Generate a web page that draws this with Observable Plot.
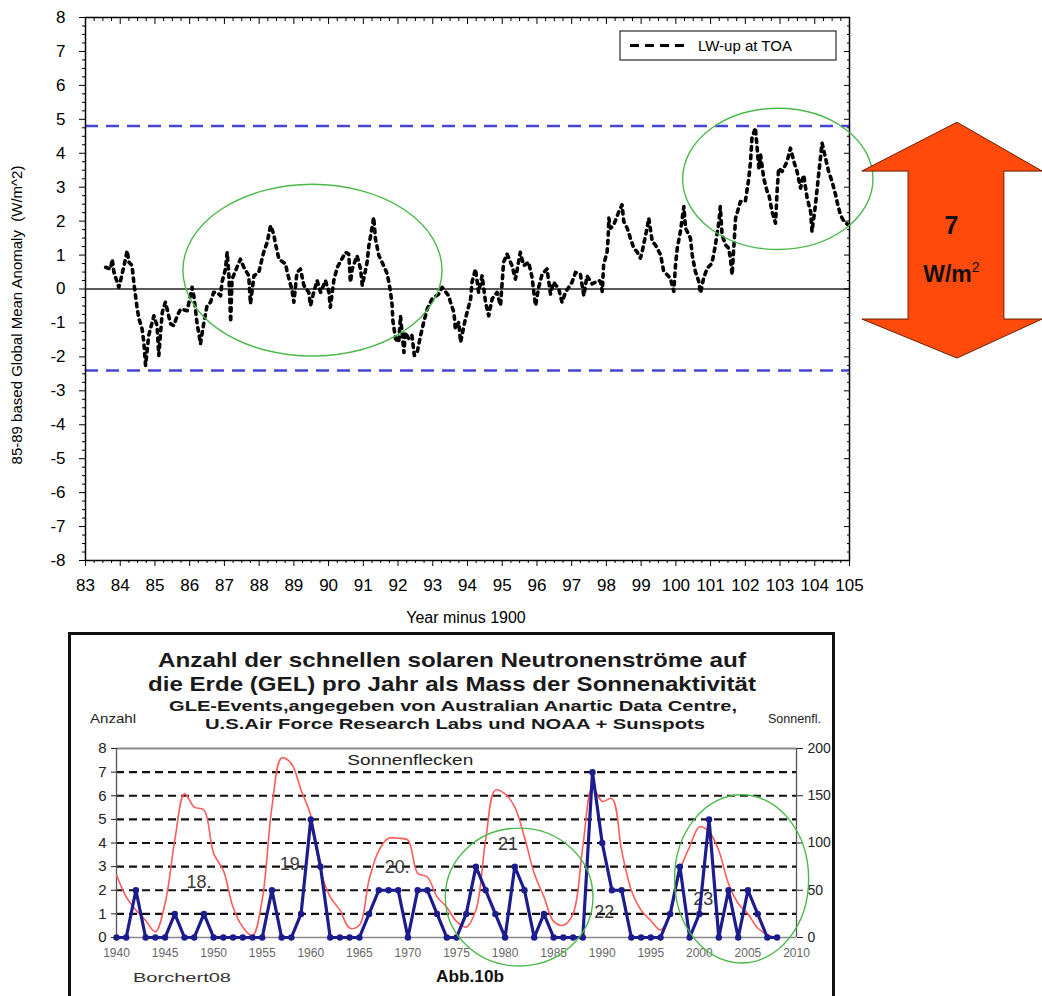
<!DOCTYPE html>
<html><head><meta charset="utf-8">
<script src="https://cdn.jsdelivr.net/npm/d3@7"></script>
<script src="https://cdn.jsdelivr.net/npm/@observablehq/plot@0.6"></script>
<style>
html,body{margin:0;padding:0;background:#fff;overflow:hidden}
#page{position:relative;width:1042px;height:996px;overflow:hidden;background:#fff}
#top{position:absolute;left:0;top:0}
#box{position:absolute;left:68px;top:632px;width:761px;height:400px;border:3px solid #111}
#bottom{position:absolute;left:70px;top:636px}
</style></head><body><div id="page"><div id="top"></div><div id="box"></div><div id="bottom"></div></div>
<script>
// ---------- TOP CHART DATA: LW-up at TOA anomaly (W/m^2), x = year minus 1900 ----------
const lwYearsA = [83.58,83.72,83.77,83.82,83.96,84.01,84.10,84.20,84.25,84.34,84.39,84.44,84.49,84.54,84.63,84.68,84.73,84.78,84.82,84.92,84.97,85.06,85.11,85.21,85.30,85.35,85.45,85.54,85.64,85.74,85.93,86.07,86.12,86.22,86.26,86.31,86.41,86.50,86.60,86.69,86.79,86.89,86.93,87.03,87.08,87.13,87.18,87.22,87.46,87.56,87.70,87.75,87.85,87.99,88.13,88.23,88.33,88.42,88.47,88.57,88.76,88.81,88.95,89.00,89.09,89.19,89.29,89.43,89.48,89.57,89.67,89.77,89.91,90.01,90.05,90.15,90.25,90.49];
const lwValuesA = [0.64,0.59,0.88,0.49,0.05,0.25,0.64,1.13,0.79,0.69,0.20,-0.20,-0.59,-0.88,-1.18,-1.57,-2.25,-1.77,-1.37,-0.98,-0.79,-1.08,-1.96,-0.69,-0.39,-0.59,-1.03,-1.08,-0.79,-0.59,-0.64,0.05,-0.20,-1.08,-1.28,-1.62,-0.98,-0.49,-0.39,-0.10,-0.10,-0.20,0.20,0.59,1.08,0.39,-0.98,0.29,0.88,0.64,0.39,-0.44,0.39,0.49,1.08,1.37,1.87,1.62,1.33,0.88,0.74,0.49,-0.05,-0.39,0.49,0.59,0.10,-0.10,-0.49,-0.10,0.25,-0.10,0.25,-0.10,-0.54,0.25,0.64,1.08];
const lwYearsB = [90.58,90.63,90.68,90.82,90.92,90.97,91.11,91.16,91.21,91.30,91.35,91.45,91.54,91.69,91.78,91.83,91.85,91.93,92.02,92.07,92.17,92.21,92.31,92.40,92.47,92.55,92.65,92.74,92.84,92.98,93.17,93.27,93.46,93.51,93.61,93.65,93.75,93.80,93.94,94.09,94.13,94.23,94.32,94.42,94.47,94.52,94.61,94.71,94.85,94.95,95.04,95.14,95.28,95.38,95.52,95.62,95.76,95.86,95.91,95.96,96.05,96.15,96.29,96.39,96.48,96.63,96.72,96.82,97.01,97.11,97.25,97.35,97.44,97.59,97.78];
const lwValuesB = [1.03,0.20,0.59,0.98,0.59,0.10,0.79,1.28,1.57,2.11,1.47,0.98,0.79,0.44,-0.05,-0.49,-0.93,-1.47,-1.57,-0.79,-1.87,-1.28,-1.47,-1.37,-1.96,-1.87,-1.37,-0.98,-0.59,-0.29,-0.15,0.05,-0.20,-0.39,-0.69,-1.18,-0.98,-1.57,-0.88,-0.29,0.20,0.59,-0.10,0.39,0.00,-0.39,-0.79,-0.29,-0.10,-0.49,0.79,1.03,0.69,0.29,1.08,0.69,0.79,0.34,-0.10,-0.49,0.05,0.44,0.59,-0.15,0.20,0.00,-0.39,-0.10,0.20,0.49,0.44,-0.20,0.39,0.15,0.25];
const lwYearsC = [97.83,97.88,97.92,98.02,98.05,98.07,98.12,98.21,98.36,98.45,98.50,98.60,98.69,98.79,98.88,98.98,99.03,99.17,99.22,99.32,99.41,99.56,99.65,99.75,99.84,99.94,99.99,100.04,100.13,100.23,100.28,100.42,100.47,100.56,100.66,100.71,100.80,100.90,101.04,101.14,101.24,101.28,101.33,101.43,101.52,101.57,101.62,101.72,101.86,102.00,102.10,102.15,102.19,102.29,102.34,102.39,102.44,102.53,102.63,102.68,102.77,102.87,102.92,102.96,103.06,103.20,103.30,103.40,103.49,103.59,103.68,103.78,103.88,103.92,104.02,104.12,104.21,104.31,104.40,104.50,104.60,104.64,104.74,104.84,104.95];
const lwValuesC = [0.22,-0.07,0.71,1.10,1.50,2.09,1.79,1.89,2.28,2.48,1.99,1.79,1.50,1.20,1.10,0.91,1.10,1.79,2.09,1.40,1.30,1.01,0.52,0.42,0.32,-0.07,0.71,1.20,1.69,2.43,1.79,1.50,1.01,0.52,0.22,-0.12,0.32,0.61,0.76,1.30,1.99,2.43,1.60,1.30,1.20,0.91,0.42,2.09,2.58,2.58,3.26,3.75,4.44,4.75,4.15,3.56,3.95,3.26,2.87,2.77,2.28,1.94,2.97,3.56,3.46,3.75,4.15,3.75,3.46,2.97,3.36,2.68,2.28,1.69,2.48,3.46,4.30,3.85,3.46,3.16,2.77,2.58,2.18,1.99,1.90];
const limitLines = [4.8, -2.4];
const topXTicks = [83,84,85,86,87,88,89,90,91,92,93,94,95,96,97,98,99,100,101,102,103,104,105];
const topYTicks = [-8,-7,-6,-5,-4,-3,-2,-1,0,1,2,3,4,5,6,7,8];

// ---------- BOTTOM CHART DATA ----------
const gleYears = [1940,1941,1942,1943,1944,1945,1946,1947,1948,1949,1950,1951,1952,1953,1954,1955,1956,1957,1958,1959,1960,1961,1962,1963,1964,1965,1966,1967,1968,1969,1970,1971,1972,1973,1974,1975,1976,1977,1978,1979,1980,1981,1982,1983,1984,1985,1986,1987,1988,1989,1990,1991,1992,1993,1994,1995,1996,1997,1998,1999,2000,2001,2002,2003,2004,2005,2006,2007,2008];
const gleCounts = [0,0,2,0,0,0,1,0,0,1, 0,0,0,0,0,0,2,0,0,1, 5,3,0,0,0,0,1,2,2,2, 0,2,2,1,0,0,1,3,2,1, 0,3,2,0,1,0,0,0,0,7, 4,2,2,0,0,0,0,1,3,0, 1,5,0,2,0,2,1,0,0];
const sunspots = [66,43,29,18,6,36,103,152,138,135, 89,71,32,11,2,40,138,190,184,156, 129,71,43,29,10,13,61,92,105,105, 103,68,64,43,32,17,11,29,103,156, 152,138,106,68,43,17,13,25,96,159, 144,147,92,50,29,18,8,25,71,96, 117,112,92,57,36,25,10,3,0];
const leftTicks = [0,1,2,3,4,5,6,7,8];
const rightTicks = [0,50,100,150,200];
const bottomXTicks = [1940,1945,1950,1955,1960,1965,1970,1975,1980,1985,1990,1995,2000,2005,2010];
const gridLevels = [1,2,3,4,5,6,7];
const cycleLabels = ["18.","19.","20.","21","22","23"];
const cycleYears = [1948.5,1958.1,1968.9,1980.3,1990.2,2000.4];
const cycleLevels = [2.33,3.09,2.97,3.94,1.06,1.61];

const FONT = "'Liberation Sans', Arial, Helvetica, sans-serif";

// ================= TOP CHART =================
const lwValues = lwValuesA.concat(lwValuesB, lwValuesC);
const lw = lwYearsA.concat(lwYearsB, lwYearsC).map((year, i) => ({year, value: lwValues[i]}));
const minor = (a, b) => d3.range(a, b + 0.001, 0.25).filter(v => Math.abs(v - Math.round(v)) > 1e-6);
const xMinor = minor(83, 105), yMinor = minor(-8, 8);
const blank = () => "";

const topP = Plot.plot({
  width: 1042, height: 630,
  marginLeft: 85, marginRight: 193, marginTop: 17, marginBottom: 70,
  style: {fontFamily: FONT, background: "transparent", color: "#000"},
  x: {domain: [83, 105], label: null},
  y: {domain: [-8, 8], label: null},
  marks: [
    Plot.ruleY([0], {stroke: "#222", strokeWidth: 1.5}),
    Plot.ruleY(limitLines, {stroke: "#4646d2", strokeWidth: 2.5, strokeDasharray: "13,8"}),
    Plot.line(lw, {x: "year", y: "value", stroke: "#000", strokeWidth: 3.6, strokeDasharray: "3.5,5"}),
    Plot.frame({stroke: "#000", strokeWidth: 1.5}),
    Plot.axisY(topYTicks, {anchor: "left", tickSize: 6, tickPadding: 14, fontSize: 17, tickFormat: d => String(d), label: null}),
    Plot.axisY(yMinor, {anchor: "left", tickSize: 3, tickFormat: blank, label: null}),
    Plot.axisY(topYTicks, {anchor: "right", tickSize: 6, dx: -6, tickFormat: blank, label: null}),
    Plot.axisY(yMinor, {anchor: "right", tickSize: 3, dx: -3, tickFormat: blank, label: null}),
    Plot.axisX(topXTicks, {anchor: "bottom", tickSize: 6, tickPadding: 12, fontSize: 17, tickFormat: d => String(d), label: null}),
    Plot.axisX(xMinor, {anchor: "bottom", tickSize: 3, tickFormat: blank, label: null}),
    Plot.axisX(topXTicks, {anchor: "top", tickSize: 6, dy: 6, tickFormat: blank, label: null}),
    Plot.axisX(xMinor, {anchor: "top", tickSize: 3, dy: 3, tickFormat: blank, label: null})
  ]
});
document.getElementById("top").appendChild(topP);

function addEllipses(plot, list) {
  const sx = plot.scale("x"), sy = plot.scale("y");
  const g = d3.select(plot).append("g");
  for (const e of list) {
    const cx = sx.apply(e.cx), cy = sy.apply(e.cy);
    g.append("ellipse").attr("cx", cx).attr("cy", cy)
      .attr("rx", Math.abs(sx.apply(e.cx + e.rx) - cx))
      .attr("ry", Math.abs(sy.apply(e.cy + e.ry) - cy))
      .attr("fill", "none").attr("stroke", "#4cb84c").attr("stroke-width", 1.4);
  }
}
addEllipses(topP, [{cx: 89.55, cy: 0.54, rx: 3.73, ry: 2.53}, {cx: 102.95, cy: 3.23, rx: 2.74, ry: 2.08}]);

{
  const svg = d3.select(topP);
  const sx = topP.scale("x"), sy = topP.scale("y");
  // legend
  const lg = svg.append("g");
  lg.append("rect").attr("x", 620).attr("y", 31).attr("width", 216).attr("height", 29).attr("fill", "#fff").attr("stroke", "#000").attr("stroke-width", 1);
  lg.append("line").attr("x1", 630).attr("x2", 690).attr("y1", 45.5).attr("y2", 45.5).attr("stroke", "#000").attr("stroke-width", 3).attr("stroke-dasharray", "9,6");
  lg.append("text").attr("x", 698).attr("y", 51).attr("text-anchor", "start").attr("font-size", 15).attr("font-family", FONT).text("LW-up at TOA");
  // axis titles
  svg.append("text").attr("transform", "translate(22,315) rotate(-90)").attr("text-anchor", "middle")
    .attr("font-size", 15).attr("font-family", FONT).style("white-space", "pre")
    .text("85-89 based Global Mean Anomaly  (W/m^2)");
  svg.append("text").attr("x", 466).attr("y", 623).attr("text-anchor", "middle").attr("font-size", 16).attr("font-family", FONT).text("Year minus 1900");
  // double arrow (annotation spanning the range between the blue lines)
  const ax = {left: 105.37, shaftL: 106.70, tip: 108.11, shaftR: 109.46, right: 110.56};
  const ay = {top: 4.90, headTop: 3.46, headBottom: -0.90, bottom: -2.05};
  const pts = [[ax.tip, ay.top], [ax.right, ay.headTop], [ax.shaftR, ay.headTop], [ax.shaftR, ay.headBottom], [ax.right, ay.headBottom],
    [ax.tip, ay.bottom], [ax.left, ay.headBottom], [ax.shaftL, ay.headBottom], [ax.shaftL, ay.headTop], [ax.left, ay.headTop]]
    .map(([x, y]) => `${sx.apply(x)},${sy.apply(y)}`).join(" ");
  svg.append("polygon").attr("points", pts).attr("fill", "#ff4a0c").attr("stroke", "#6a1e00").attr("stroke-width", 1);
  svg.append("text").attr("x", sx.apply(107.95)).attr("y", sy.apply(1.6)).attr("text-anchor", "middle")
    .attr("font-size", 25).attr("font-weight", 900).attr("font-family", FONT).attr("fill", "#111").text("7");
  const wt = svg.append("text").attr("x", sx.apply(107.95)).attr("y", sy.apply(0.2)).attr("text-anchor", "middle")
    .attr("font-size", 23).attr("font-weight", 900).attr("font-family", FONT).attr("fill", "#111");
  wt.append("tspan").text("W/m");
  wt.append("tspan").attr("font-size", 14).attr("font-weight", 400).attr("dy", -10).text("2");
}

// ================= BOTTOM CHART =================
const gle = gleYears.map((year, i) => ({year, count: gleCounts[i]}));
const ssn = gleYears.map((year, i) => ({year, ssn: sunspots[i]}));
const cycles = cycleLabels.map((label, i) => ({label, year: cycleYears[i], level: cycleLevels[i]}));

const botP = Plot.plot({
  width: 764, height: 358,
  marginLeft: 46, marginRight: 38, marginTop: 112, marginBottom: 57,
  style: {fontFamily: FONT, background: "transparent", color: "#222", overflow: "visible"},
  x: {domain: [1940, 2010], label: null},
  y: {domain: [0, 8], label: null},
  marks: [
    Plot.ruleY(gridLevels, {stroke: "#111", strokeWidth: 2.2, strokeDasharray: "8,5"}),
    Plot.ruleY([8], {stroke: "#8a8a8a", strokeWidth: 2}),
    Plot.ruleY([0], {stroke: "#8a8a8a", strokeWidth: 1.5}),
    Plot.ruleX([1940, 2010], {stroke: "#555", strokeWidth: 1.3}),
    Plot.text(cycles, {x: "year", y: "level", text: "label", fontSize: 18, fill: "#3a3a3a"}),
    Plot.line(ssn, {x: "year", y: d => d.ssn / 25, stroke: "#ff5c5c", strokeWidth: 1.6, curve: "catmull-rom"}),
    Plot.line(gle, {x: "year", y: "count", stroke: "#1c1c8c", strokeWidth: 3.2}),
    Plot.dot(gle, {x: "year", y: "count", r: 3.2, fill: "#1c1c8c"}),
    Plot.axisY(leftTicks, {anchor: "left", tickSize: 5, tickPadding: 5, fontSize: 15, tickFormat: d => String(d), label: null}),
    Plot.axisY(rightTicks.map(v => v / 25), {anchor: "right", tickSize: 6, tickPadding: 5, fontSize: 14, tickFormat: d => String(Math.round(d * 25)), label: null}),
    Plot.axisX(bottomXTicks, {anchor: "bottom", tickSize: 0, tickPadding: 11, fontSize: 12, fill: "#666", tickFormat: d => String(d), label: null})
  ]
});
document.getElementById("bottom").appendChild(botP);
addEllipses(botP, [{cx: 1981.5, cy: 1.69, rx: 7.6, ry: 2.92}, {cx: 2004.4, cy: 2.46, rx: 6.9, ry: 3.56}]);

{
  const svg = d3.select(botP);
  const sx = botP.scale("x"), sy = botP.scale("y");
  const t = (x, y, str, size, weight, len, fill = "#1a1a1a", anchor = "middle", family = FONT) => {
    const el = svg.append("text").attr("x", x).attr("y", y).attr("text-anchor", anchor)
      .attr("font-size", size).attr("font-weight", weight).attr("font-family", family).attr("fill", fill).text(str);
    if (len) el.attr("textLength", len).attr("lengthAdjust", "spacingAndGlyphs");
    return el;
  };
  t(382, 31, "Anzahl der schnellen solaren Neutronenströme auf", 21, 700, 588);
  t(382, 55, "die Erde (GEL) pro Jahr als Mass der Sonnenaktivität", 21, 700, 608);
  t(383, 75, "GLE-Events,angegeben von Australian Anartic Data Centre,", 15, 700, 568);
  t(385, 93, "U.S.Air Force Research Labs und NOAA + Sunspots", 15, 700, 500);
  t(20, 87, "Anzahl", 13, 400, 46, "#222", "start");
  t(698, 87, "Sonnenfl.", 13, 400, 53, "#222", "start");
  t(sx.apply(1970.3), sy.apply(7.5) + 5, "Sonnenflecken", 14, 400, 126, "#222");
  t(112, 346, "Borchert08", 13, 400, 98, "#333");
  t(400, 346, "Abb.10b", 16, 700, 68, "#111");
}
</script></body></html>
